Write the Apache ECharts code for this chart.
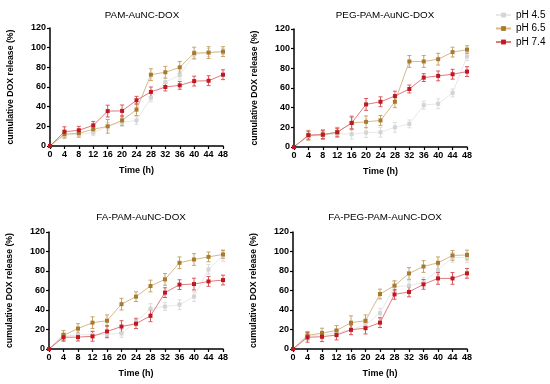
<!DOCTYPE html>
<html><head><meta charset="utf-8">
<script src="https://cdn.jsdelivr.net/npm/echarts@6/dist/echarts.min.js"></script>
<style>html,body{margin:0;padding:0;background:#fff}#c{width:550px;height:384px}</style>
</head><body><div id="c"></div>
<script>
var hours = [0,4,8,12,16,20,24,28,32,36,40,44,48];
var panelTitles = ['PAM-AuNC-DOX','PEG-PAM-AuNC-DOX','FA-PAM-AuNC-DOX','FA-PEG-PAM-AuNC-DOX'];
var seriesNames = ['pH 4.5','pH 6.5','pH 7.4'];
var yTicks = [0,20,40,60,80,100,120];

// panel 1: PAM-AuNC-DOX
var p1_ph45 = [0,11,12,13.5,20,24,26,49,65,72,93,95,96];
var p1_ph65 = [0,12,13,17,20,26,37,72.5,75,80,94.5,95,96];
var p1_ph74 = [0,14.5,16,21,35.5,35.7,46.5,55,60,61.7,66,66.4,72.5];
var p1_err45 = [0,3,3,3,4,4,4,4,4,4,4,4,3];
var p1_err65 = [0,4,4,4,7,5,6,6,6,6,6,6,5];
var p1_err74 = [0,5,4,4,6,6,4,5,4,4,5,5,5];
// panel 2: PEG-PAM-AuNC-DOX
var p2_ph45 = [0,11,12,13.6,13,14.7,15,20,23.5,42.6,44,55,92];
var p2_ph65 = [0,12,12.6,15,24.5,25.6,27,46,87,87,89.3,96.5,99];
var p2_ph74 = [0,12,12.6,15,24.5,43.3,46,51.8,59,70.6,72.3,74,76.7];
var p2_err45 = [0,4,4,4,5,5,5,5,4,4,5,4,4];
var p2_err65 = [0,5,5,5,7,6,5,6,6,6,6,5,4];
var p2_err74 = [0,4,4,4,6,6,5,5,4,4,5,5,5];
// panel 3: FA-PAM-AuNC-DOX
var p3_ph45 = [0,13,14.6,14.6,15,16,28,41.5,43.5,45.5,53.7,81.6,96];
var p3_ph65 = [0,14,21,27,29,46,53.7,64.6,71.4,88.4,91.8,94.5,97];
var p3_ph74 = [0,12,12.2,13,18,23,26,34,57.8,66,66.6,69.3,70.7];
var p3_err45 = [0,4,4,4,4,4,4,5,4,5,5,5,6];
var p3_err65 = [0,5,5,6,6,6,5,6,6,6,6,5,4];
var p3_err74 = [0,4,4,5,6,6,5,6,5,5,6,5,5];
// panel 4: FA-PEG-PAM-AuNC-DOX
var p4_ph45 = [0,13,14.6,16.3,19.7,24.8,36.7,64,65,68.3,81,94,93.6];
var p4_ph65 = [0,14,16.3,19,27,29,56.4,65,77.5,84.6,88.4,96,96.4];
var p4_ph74 = [0,12,12.6,14.3,19.7,21.4,27,56,58.5,66.3,72.4,72.4,77.6];
var p4_err45 = [0,4,4,4,5,5,5,5,5,5,5,5,5];
var p4_err65 = [0,4,5,5,7,6,5,5,6,6,6,5,5];
var p4_err74 = [0,5,5,5,5,6,5,5,5,5,6,6,5];

var panelData = [
  [[p1_ph45,p1_err45],[p1_ph65,p1_err65],[p1_ph74,p1_err74]],
  [[p2_ph45,p2_err45],[p2_ph65,p2_err65],[p2_ph74,p2_err74]],
  [[p3_ph45,p3_err45],[p3_ph65,p3_err65],[p3_ph74,p3_err74]],
  [[p4_ph45,p4_err45],[p4_ph65,p4_err65],[p4_ph74,p4_err74]]
];

var markerColors = ['#d4d4d4','#a87a2e','#c01820'];
var lineColors = ['#e8e8e8','#d6b98a','#e07a7e'];
var errColors = ['#dcdcdc','#c9a468','#d9585e'];

var grids = [
  {left:50, top:28, width:173, height:118},
  {left:294, top:29, width:173, height:118},
  {left:49, top:232, width:174, height:117},
  {left:293, top:232, width:174, height:117}
];
var titlePos = [[137,5],[380,5],[136,207],[380,207]];
var FONT = 'Liberation Sans, Arial, sans-serif';

var option = {
  animation:false,
  backgroundColor:'#fff',
  textStyle:{fontFamily:FONT},
  title: panelTitles.map(function(t,i){
    return {text:t, left:titlePos[i][0], top:titlePos[i][1], textAlign:'center',
      textStyle:{fontSize:9.8, fontWeight:'normal', color:'#000', fontFamily:FONT}};
  }),
  legend:{
    data:seriesNames, orient:'vertical', left:490, top:5, itemWidth:15, itemHeight:6, itemGap:3.5,
    textStyle:{fontSize:10, color:'#000', fontFamily:FONT}
  },
  grid: grids,
  xAxis: grids.map(function(g,i){
    return {type:'value', gridIndex:i, min:0, max:48, interval:4,
      name:'Time (h)', nameLocation:'middle', nameGap:20,
      nameTextStyle:{fontSize:9, fontWeight:'bold', color:'#000'},
      axisLine:{lineStyle:{color:'#000', width:1.5}},
      axisTick:{length:3, lineStyle:{color:'#000', width:1.2}},
      axisLabel:{fontSize:9, fontWeight:'bold', color:'#000', margin:4},
      splitLine:{show:false}};
  }),
  yAxis: grids.map(function(g,i){
    return {type:'value', gridIndex:i, min:0, max:120, interval:20,
      name:'cumulative DOX release (%)', nameLocation:'middle', nameGap:35,
      nameTextStyle:{fontSize:8.7, fontWeight:'bold', color:'#000'},
      axisLine:{show:true, lineStyle:{color:'#000', width:1.5}},
      axisTick:{show:true, length:3, lineStyle:{color:'#000', width:1.2}},
      axisLabel:{fontSize:9, fontWeight:'bold', color:'#000', margin:4},
      splitLine:{show:false}};
  }),
  series: []
};

function errSeries(pi, si, vals, errs){
  var data = hours.map(function(h,k){ return [h, vals[k], errs[k]]; });
  return {
    type:'custom', name:'err '+seriesNames[si]+' '+pi, xAxisIndex:pi, yAxisIndex:pi,
    silent:true, z:1,
    data:data,
    renderItem:function(params, api){
      var x = api.value(0), y = api.value(1), e = api.value(2);
      if (!e) return null;
      var top = api.coord([x, y+e]), bot = api.coord([x, y-e]);
      var c = errColors[si];
      var st = {stroke:c, lineWidth:1};
      return {type:'group', children:[
        {type:'line', shape:{x1:top[0], y1:top[1], x2:bot[0], y2:bot[1]}, style:st},
        {type:'line', shape:{x1:top[0]-2, y1:top[1], x2:top[0]+2, y2:top[1]}, style:st},
        {type:'line', shape:{x1:bot[0]-2, y1:bot[1], x2:bot[0]+2, y2:bot[1]}, style:st}
      ]};
    }
  };
}

panelData.forEach(function(pd, pi){
  pd.forEach(function(sd, si){
    option.series.push(errSeries(pi, si, sd[0], sd[1]));
    option.series.push({
      type:'line', name:seriesNames[si], xAxisIndex:pi, yAxisIndex:pi, z:2+si,
      data: hours.map(function(h,k){ return [h, sd[0][k]]; }),
      symbol:'rect', symbolSize:4, showAllSymbol:true,
      itemStyle:{color:markerColors[si]},
      lineStyle:{color:lineColors[si], width:1}
    });
  });
});

var chart = echarts.init(document.getElementById('c'), null, {renderer:'canvas'});
chart.setOption(option);
</script></body></html>
